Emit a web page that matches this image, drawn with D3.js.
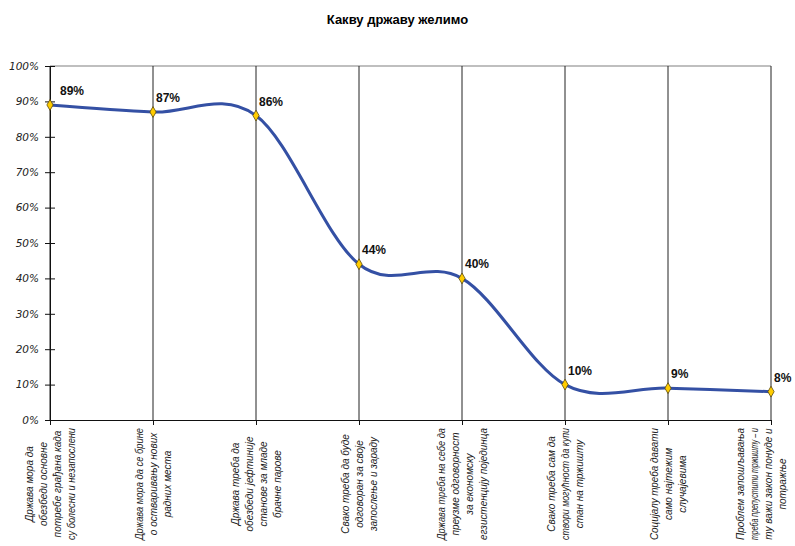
<!DOCTYPE html>
<html>
<head>
  <meta charset="utf-8">
  <script src="https://d3js.org/d3.v7.min.js"></script>
  <style>
    body { margin: 0; background: #fff; }
    svg { display: block; }
    .title { font: bold 13px "Liberation Sans", Arial, sans-serif; }
    .ylab { font: italic 10.5px "DejaVu Sans", sans-serif; fill: #222; }
    .xlab { font: italic 10px "Liberation Sans", Arial, sans-serif; fill: #222; }
    .vlab { font: bold 12px "Liberation Sans", Arial, sans-serif; fill: #111; }
  </style>
</head>
<body>
<div id="chart"></div>
<script>
  // survey answers, each label split into the lines shown under the axis
  var categories = [
    ["Држава мора да", "обезбеди основне", "потребе грађана када", "су болесни и незапослени"],
    ["Држава мора да се брине", "о остваривању нових", "радних места"],
    ["Држава треба да", "обезбеди јефтиније", "станове за младе", "брачне парове"],
    ["Свако треба да буде", "одговоран за своје", "запослење и зараду"],
    ["Држава треба на себе да", "преузме одговорност", "за економску", "егзистенцију појединца"],
    ["Свако треба сам да", "створи могућност да купи", "стан на тржишту"],
    ["Социјалу треба давати", "само најтежим", "случајевима"],
    ["Проблем запошљавања", "треба препустити тржишту – и", "ту важи закон понуде и", "потражње"]
  ];
  var values = [0.89, 0.87, 0.86, 0.44, 0.40, 0.10, 0.09, 0.08];
  var yTicks = [0, 0.1, 0.2, 0.3, 0.4, 0.5, 0.6, 0.7, 0.8, 0.9, 1.0];

  var W = 795, H = 546;
  var margin = {top: 66, right: 24, bottom: 126, left: 50};
  var width = W - margin.left - margin.right,
      height = H - margin.top - margin.bottom;

  var svg = d3.select("#chart").append("svg")
    .attr("width", W).attr("height", H);

  svg.append("text").attr("class", "title")
    .attr("x", W / 2).attr("y", 24)
    .attr("text-anchor", "middle")
    .text("Какву државу желимо");

  var g = svg.append("g")
    .attr("transform", "translate(" + margin.left + "," + margin.top + ")");

  var x = d3.scalePoint().domain(d3.range(values.length)).range([0, width]);
  var y = d3.scaleLinear().domain([0, 1]).range([height, 0]);

  // top border line at 100%
  g.append("line")
    .attr("x1", 0).attr("x2", width)
    .attr("y1", y(1)).attr("y2", y(1))
    .attr("stroke", "#aaa").attr("stroke-width", 1.5);

  // vertical lines at each category
  g.selectAll(".vline").data(values).enter().append("line")
    .attr("class", "vline")
    .attr("x1", function(d, i) { return x(i); })
    .attr("x2", function(d, i) { return x(i); })
    .attr("y1", y(1)).attr("y2", y(0))
    .attr("stroke", "#222").attr("stroke-width", 1);

  // y axis
  var yAxis = g.append("g")
    .call(d3.axisLeft(y).tickValues(yTicks).tickFormat(d3.format(".0%"))
      .tickSizeInner(5).tickSizeOuter(0).tickPadding(7));
  yAxis.select(".domain").attr("stroke", "#111");
  yAxis.selectAll(".tick line").attr("stroke", "#111").attr("x2", 5).attr("x1", -5);
  yAxis.selectAll(".tick text").attr("class", "ylab").attr("x", -11);

  // x axis
  var xAxis = g.append("g")
    .attr("transform", "translate(0," + height + ")")
    .call(d3.axisBottom(x).tickFormat("").tickSizeInner(5).tickSizeOuter(0));
  xAxis.select(".domain").attr("stroke", "#111");
  xAxis.selectAll(".tick line").attr("stroke", "#111");

  // rotated multi-line category labels
  var lh = 14, labY = height + 64, maxLen = 112;
  categories.forEach(function(lines, i) {
    var cx = x(i) + margin.left;
    var n = lines.length;
    var shift = Math.min(0, (W - 13) - (cx + (n - 1) / 2 * lh));
    lines.forEach(function(line, j) {
      var lx = cx + shift + (j - (n - 1) / 2) * lh;
      var t = g.append("text").attr("class", "xlab")
        .attr("transform", "translate(" + (lx - margin.left) + "," + labY + ") rotate(-90)")
        .attr("text-anchor", "middle")
        .attr("dominant-baseline", "central")
        .text(line);
      if (t.node().getComputedTextLength() > maxLen) {
        t.attr("textLength", maxLen).attr("lengthAdjust", "spacingAndGlyphs");
      }
    });
  });

  // smoothed line
  var line = d3.line()
    .x(function(d, i) { return x(i); })
    .y(function(d) { return y(d); })
    .curve(d3.curveCardinal.tension(0));

  g.append("path").datum(values)
    .attr("d", line)
    .attr("fill", "none")
    .attr("stroke", "#3450a4")
    .attr("stroke-width", 3);

  // markers
  g.selectAll(".pt").data(values).enter().append("path")
    .attr("class", "pt")
    .attr("d", d3.symbol().type(d3.symbolDiamond).size(34))
    .attr("transform", function(d, i) { return "translate(" + x(i) + "," + y(d) + ")"; })
    .attr("fill", "#ffcc00")
    .attr("stroke", "#5a4a10")
    .attr("stroke-width", 0.8);

  // value labels
  g.selectAll(".vlab").data(values).enter().append("text")
    .attr("class", "vlab")
    .attr("x", function(d, i) { return x(i) + (i === 0 ? 10 : 3); })
    .attr("y", function(d) { return y(d) - 10; })
    .text(function(d) { return d3.format(".0%")(d); });
</script>
</body>
</html>
